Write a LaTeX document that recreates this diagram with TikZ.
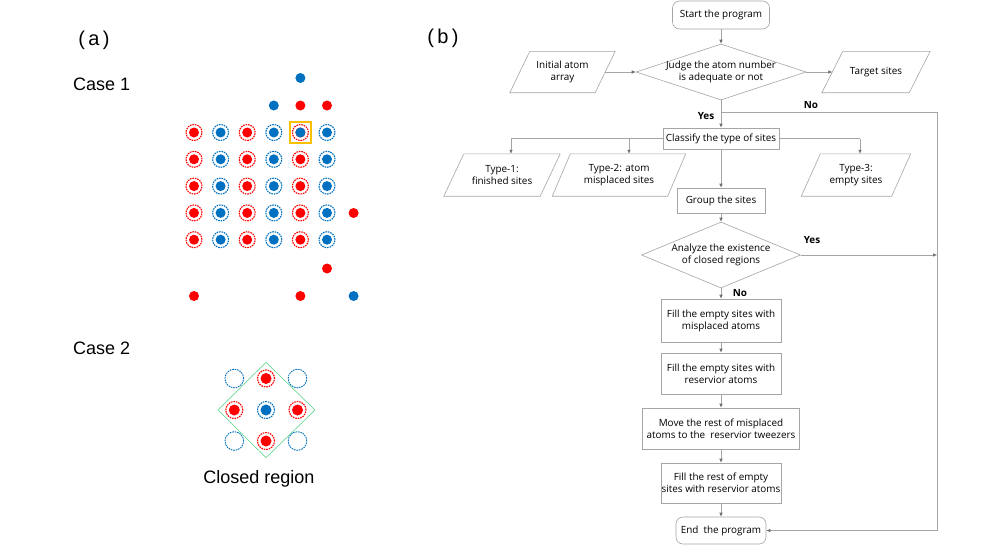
\documentclass[tikz,border=0pt]{standalone}
\usepackage{fontspec}
\setmainfont{Open Sans}
\newfontfamily\arialf{Liberation Sans}
\usetikzlibrary{shapes.geometric,arrows.meta}
\definecolor{ared}{RGB}{255,0,0}
\definecolor{ablue}{RGB}{0,112,192}
\definecolor{aorange}{RGB}{255,192,0}
\definecolor{agreen}{RGB}{110,215,150}
\definecolor{fline}{RGB}{165,165,165}
\definecolor{farrow}{RGB}{110,110,110}
\newcommand\parashape[2]{\draw[fline,line width=0.6pt] ([xshift=#2]#1.north west) -- ([xshift=#2]#1.north east) -- ([xshift=-#2]#1.south east) -- ([xshift=-#2]#1.south west) -- cycle;}
\newcommand\fsz{\fontsize{9.9pt}{12pt}\selectfont}
\begin{document}
\begin{tikzpicture}[x=1pt,y=-1pt,
  ring/.style={line width=1.1pt,dash pattern=on 1.6pt off 0.9pt},
  fbox/.style={draw=fline,line width=0.6pt,fill=white,align=center,inner sep=0pt,font=\fsz},
  rbox/.style={fbox,rounded corners=7pt},
  pbox/.style={align=center,inner sep=0pt,font=\fsz},
  txt/.style={align=center,inner sep=0pt,font=\fsz},
  dia/.style={diamond,draw=fline,line width=0.6pt,fill=white,inner sep=0pt},
  lab/.style={font=\fsz\bfseries,inner sep=0pt},
  lnk/.style={draw=fline,line width=0.6pt},
  arr/.style={draw=fline,line width=0.6pt,-{Latex[length=4pt,width=3.5pt,color=farrow]}},
  big/.style={font=\arialf\fontsize{18pt}{20pt}\selectfont,inner sep=0pt}
]
\useasboundingbox (0,0) rectangle (981,552);

% ---------- panel (a) ----------
\node[big,font=\arialf\fontsize{20pt}{22pt}\selectfont] (la) at (94,40) {(\,a\,)};
\node[big,anchor=west] (c1) at (73,84) {Case 1};
\node[big,anchor=west] (c2) at (73,348) {Case 2};
\node[big] (cr) at (259,479) {Closed region};

\foreach \c/\col in {0/ared,1/ablue,2/ared,3/ablue,4/ared,5/ablue}
  \foreach \r in {0,...,4} {
    \draw[ring,draw=\col] ({194+26.6*\c},{132.5+26.8*\r}) circle[radius=8pt];
    \fill[\col] ({194+26.6*\c},{132.5+26.8*\r}) circle[radius=5pt];
  }
\fill[ablue] (300.4,132.5) circle[radius=5pt];
\draw[aorange,line width=1.2pt] (290,122) rectangle (311,143);
\foreach \p/\col in {{(300.4,78)}/ablue,{(273.8,105.5)}/ablue,{(300.4,105.5)}/ared,{(327,105.5)}/ared,
  {(353.6,213)}/ared,{(327,268.5)}/ared,{(194,296)}/ared,{(300.4,296)}/ared,{(353.6,296)}/ablue}
  \fill[\col] \p circle[radius=5pt];

% case 2
\draw[agreen,line width=0.7pt] (266,362.3) -- (315,410) -- (266,457.7) -- (218,410) -- cycle;
\foreach \p in {(234.3,378.5),(297.5,378.5),(234.3,441),(297.5,441)}
  \draw[ring,draw=ablue,line width=0.9pt] \p circle[radius=9.3pt];
\foreach \p in {(266,378.5),(234.3,410),(297.5,410),(266,441)} {
  \draw[ring,draw=ared] \p circle[radius=8.5pt];
  \fill[ared] \p circle[radius=5.5pt];
}
\draw[ring,draw=ablue] (266,410) circle[radius=8.5pt];
\fill[ablue] (266,410) circle[radius=5.5pt];

% ---------- panel (b) ----------
\node[big,font=\arialf\fontsize{20pt}{22pt}\selectfont] (lb) at (443,38) {(\,b\,)};

\node[rbox,minimum width=97pt,minimum height=28pt] (start) at (721,15) {Start the program};
\node[dia,minimum width=170pt,minimum height=56pt] (d1) at (721,72) {};
\node[txt] (d1t) at (d1) {Judge the atom number\\is adequate or not};
\node[pbox,minimum width=85pt,minimum height=41pt] (init) at (562.5,72) {Initial atom\\array};
\parashape{init}{10pt}
\node[pbox,minimum width=87pt,minimum height=41pt] (target) at (876,72) {Target sites};
\parashape{target}{10.5pt}

\node[fbox,minimum width=116pt,minimum height=21pt] (cls) at (721,138.5) {Classify the type of sites};
\node[pbox,minimum width=96pt,minimum height=42pt] (t1) at (502,175) {Type-1:\\finished sites};
\parashape{t1}{10pt}
\node[pbox,minimum width=115pt,minimum height=42pt] (t2) at (619,175) {Type-2: atom\\misplaced sites};
\parashape{t2}{9pt}
\node[pbox,minimum width=90pt,minimum height=42pt] (t3) at (856,175) {Type-3:\\empty sites};
\parashape{t3}{9.5pt}
\node[fbox,minimum width=88pt,minimum height=25pt] (grp) at (721,200.5) {Group the sites};
\node[dia,minimum width=159pt,minimum height=66pt] (d2) at (721,255) {};
\node[txt] (d2t) at (d2) {Analyze the existence\\of closed regions};
\node[fbox,minimum width=120pt,minimum height=43pt] (f1) at (721,320.5) {Fill the empty sites with\\misplaced atoms};
\node[fbox,minimum width=120pt,minimum height=41pt] (f2) at (721,373.5) {Fill the empty sites with\\reservior atoms};
\node[fbox,minimum width=157pt,minimum height=41pt] (mv) at (721,428.5) {Move the rest of misplaced\\atoms to the \ reservior tweezers};
\node[fbox,minimum width=120pt,minimum height=40pt] (f3) at (721,483) {Fill the rest of empty\\sites with reservior atoms};
\node[rbox,minimum width=90pt,minimum height=27pt] (end) at (721,530.5) {End \ the program};

\node[lab] (yes1) at (706,116) {Yes};
\node[lab] (no1) at (811,105) {No};
\node[lab] (yes2) at (812,240) {Yes};
\node[lab] (no2) at (740,293) {No};

\draw[arr] (start) -- (d1);
\draw[arr] (init) -- (d1);
\draw[arr] (d1) -- (target);
\draw[arr] (d1) -- (cls);
\coordinate (nos) at (721,112);
\coordinate (noc) at (937,112);
\draw[arr] (nos) -- (noc) |- (end.east);
\coordinate (b1) at (511,138.5);
\coordinate (b2) at (629,138.5);
\coordinate (b3) at (860,138.5);
\draw[lnk] (cls.west) -- (b1);
\draw[arr] (b1) -- (b1 |- t1.north);
\draw[arr] (b2) -- (b2 |- t2.north);
\draw[lnk] (cls.east) -- (b3);
\draw[arr] (b3) -- (b3 |- t3.north);
\draw[arr] (cls) -- (grp);
\draw[arr] (grp) -- (d2);
\draw[arr] (d2.east) -- (d2.east -| noc);
\draw[arr] (d2) -- (f1);
\draw[arr] (f1) -- (f2);
\draw[arr] (f2) -- (mv);
\draw[arr] (mv) -- (f3);
\draw[arr] (f3) -- (end);
\end{tikzpicture}
\end{document}
